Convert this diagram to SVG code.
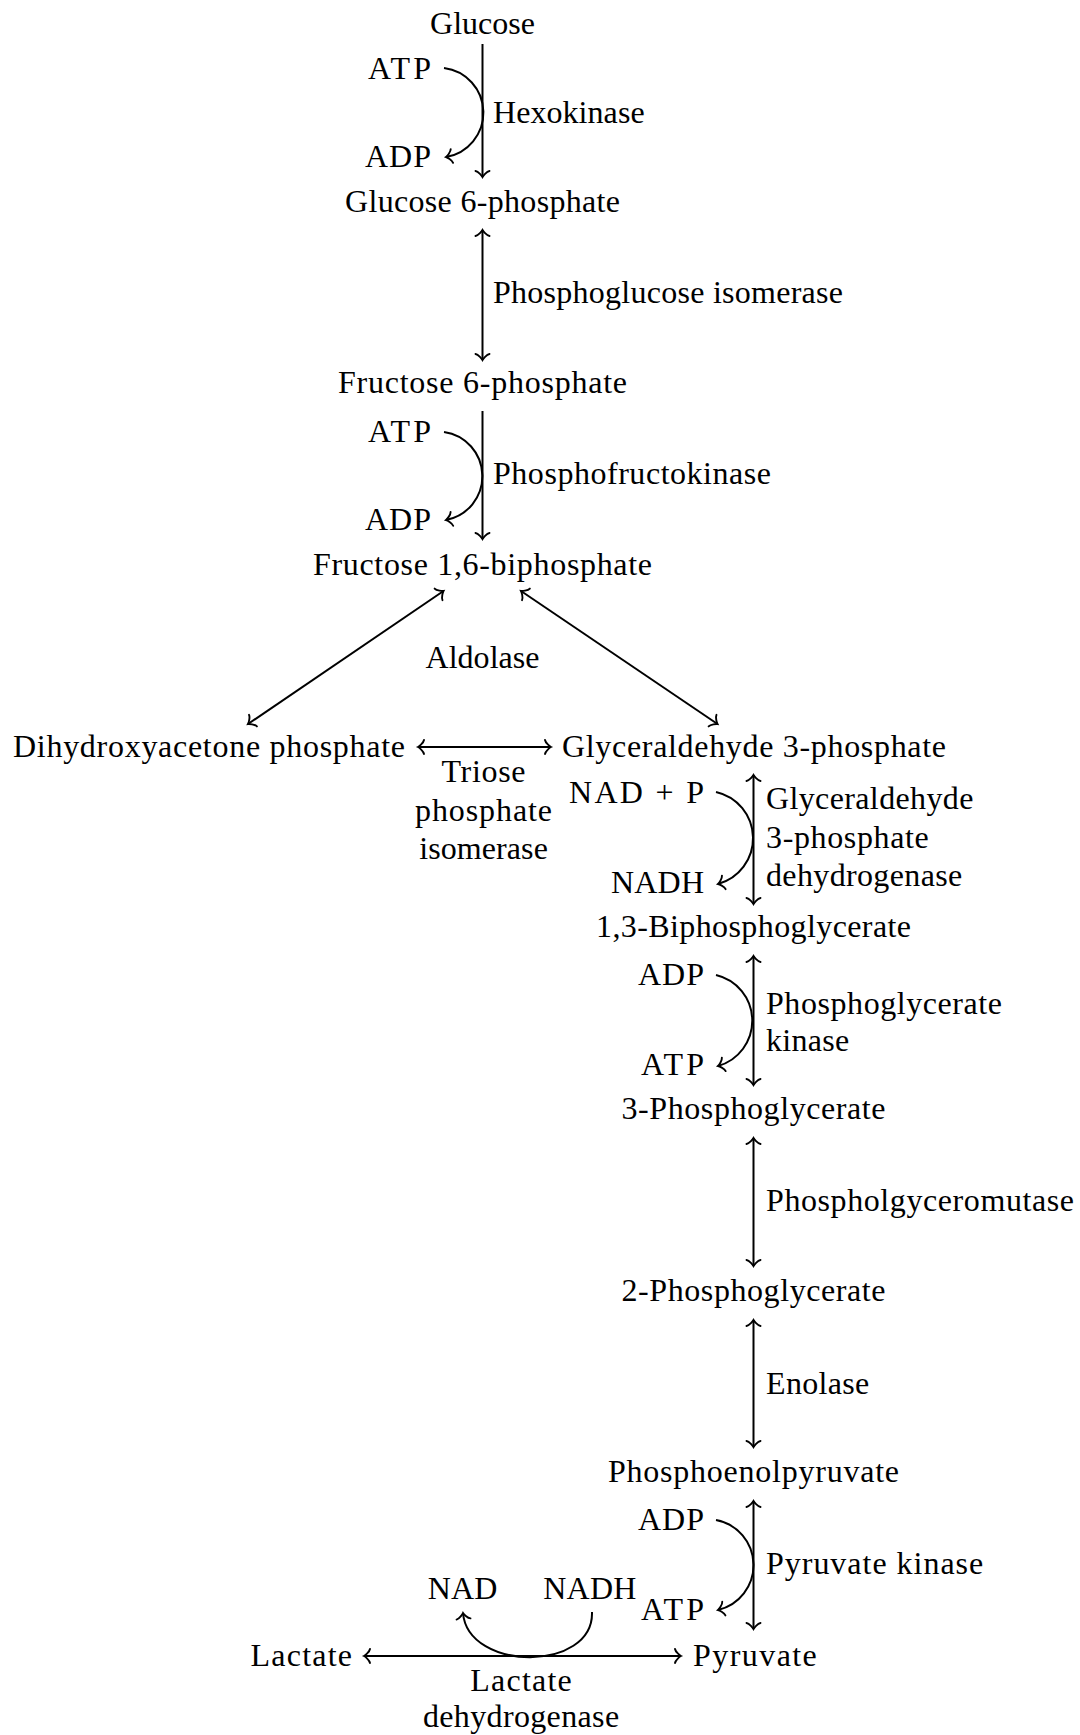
<svg xmlns="http://www.w3.org/2000/svg" width="1080" height="1735" viewBox="0 0 1080 1735">
<style>
.t{font-family:"Liberation Serif","Times New Roman",serif;font-size:32px;fill:#000}
.m{text-anchor:middle}.s{text-anchor:start}.e{text-anchor:end}
.c{fill:none;stroke:#000;stroke-width:2}
</style>
<defs>
<marker id="tip" markerUnits="userSpaceOnUse" markerWidth="20" markerHeight="20" viewBox="-10 -10 20 20" refX="0" refY="0" orient="auto-start-reverse" overflow="visible">
<path d="M-6,-7 C-5.5,-4 -1,-0.5 0,0 C-1,0.5 -5.5,4 -6,7" fill="none" stroke="#000" stroke-width="1.9" stroke-linecap="round"/>
</marker>
</defs>
<rect width="1080" height="1735" fill="#fff"/>
<g id="connectors">
<line class="c" x1="482.5" y1="44" x2="482.5" y2="177" marker-end="url(#tip)"/>
<path class="c" d="M444,68 A45,45 0 0 1 446,157" marker-end="url(#tip)"/>
<line class="c" x1="482.5" y1="230" x2="482.5" y2="360" marker-start="url(#tip)" marker-end="url(#tip)"/>
<line class="c" x1="482.5" y1="411" x2="482.5" y2="539" marker-end="url(#tip)"/>
<path class="c" d="M444,432 A44.6,44.6 0 0 1 446,520" marker-end="url(#tip)"/>
<line class="c" x1="443.5" y1="591" x2="248" y2="724" marker-start="url(#tip)" marker-end="url(#tip)"/>
<line class="c" x1="521" y1="591" x2="717.5" y2="724" marker-start="url(#tip)" marker-end="url(#tip)"/>
<line class="c" x1="418" y1="747" x2="551" y2="747" marker-start="url(#tip)" marker-end="url(#tip)"/>
<line class="c" x1="753.5" y1="775" x2="753.5" y2="904" marker-start="url(#tip)" marker-end="url(#tip)"/>
<path class="c" d="M716,792 A47.4,47.4 0 0 1 718,884" marker-end="url(#tip)"/>
<line class="c" x1="753.5" y1="956" x2="753.5" y2="1085" marker-start="url(#tip)" marker-end="url(#tip)"/>
<path class="c" d="M716,975 A47,47 0 0 1 718,1066" marker-end="url(#tip)"/>
<line class="c" x1="753.5" y1="1138" x2="753.5" y2="1266" marker-start="url(#tip)" marker-end="url(#tip)"/>
<line class="c" x1="753.5" y1="1320" x2="753.5" y2="1447" marker-start="url(#tip)" marker-end="url(#tip)"/>
<line class="c" x1="753.5" y1="1501" x2="753.5" y2="1629" marker-start="url(#tip)" marker-end="url(#tip)"/>
<path class="c" d="M716,1520 A46,46 0 0 1 718,1610" marker-end="url(#tip)"/>
<line class="c" x1="364" y1="1656" x2="681" y2="1656" marker-start="url(#tip)" marker-end="url(#tip)"/>
<path class="c" d="M592,1612 C594,1672 468,1672 463,1613" marker-end="url(#tip)"/>
</g>
<g id="glucose"><text class="t m" x="482.5" y="34" textLength="104.8">Glucose</text></g>
<g id="hexokinase-cofactors">
<text class="t e" x="431" y="79" textLength="63">ATP</text>
<text class="t e" x="431" y="167" textLength="66">ADP</text>
</g>
<g id="hexokinase"><text class="t s" x="493" y="123" textLength="151.6">Hexokinase</text></g>
<g id="glucose-6-phosphate"><text class="t m" x="482.5" y="212" textLength="275">Glucose 6-phosphate</text></g>
<g id="phosphoglucose-isomerase"><text class="t s" x="493" y="303" textLength="350">Phosphoglucose isomerase</text></g>
<g id="fructose-6-phosphate"><text class="t m" x="482.5" y="393" textLength="289">Fructose 6-phosphate</text></g>
<g id="pfk-cofactors">
<text class="t e" x="431" y="442" textLength="63">ATP</text>
<text class="t e" x="431" y="530" textLength="66">ADP</text>
</g>
<g id="phosphofructokinase"><text class="t s" x="493" y="484" textLength="278">Phosphofructokinase</text></g>
<g id="fructose-16-biphosphate"><text class="t m" x="482.5" y="575" textLength="339">Fructose 1,6-biphosphate</text></g>
<g id="aldolase"><text class="t m" x="482.5" y="668" textLength="114">Aldolase</text></g>
<g id="dhap"><text class="t s" x="13" y="757" textLength="392">Dihydroxyacetone phosphate</text></g>
<g id="gap"><text class="t s" x="562" y="757" textLength="384">Glyceraldehyde 3-phosphate</text></g>
<g id="triose-phosphate-isomerase">
<text class="t m" x="483.5" y="782" textLength="84">Triose</text>
<text class="t m" x="483.5" y="821" textLength="137">phosphate</text>
<text class="t m" x="483.5" y="859" textLength="128.7">isomerase</text>
</g>
<g id="gapdh-cofactors">
<text class="t e" x="704" y="803" textLength="135">NAD + P</text>
<text class="t e" x="704" y="893" textLength="93">NADH</text>
</g>
<g id="gapdh">
<text class="t s" x="766" y="809" textLength="207.4">Glyceraldehyde</text>
<text class="t s" x="766" y="848" textLength="162.7">3-phosphate</text>
<text class="t s" x="766" y="886" textLength="196.2">dehydrogenase</text>
</g>
<g id="bpg13"><text class="t m" x="753.5" y="937" textLength="315">1,3-Biphosphoglycerate</text></g>
<g id="pgk-cofactors">
<text class="t e" x="704" y="985" textLength="66">ADP</text>
<text class="t e" x="704" y="1075" textLength="63">ATP</text>
</g>
<g id="pgk">
<text class="t s" x="766" y="1014" textLength="236">Phosphoglycerate</text>
<text class="t s" x="766" y="1051" textLength="83.2">kinase</text>
</g>
<g id="pg3"><text class="t m" x="753.5" y="1119" textLength="264">3-Phosphoglycerate</text></g>
<g id="pgm"><text class="t s" x="766" y="1211" textLength="308">Phospholgyceromutase</text></g>
<g id="pg2"><text class="t m" x="753.5" y="1301" textLength="264">2-Phosphoglycerate</text></g>
<g id="enolase"><text class="t s" x="766" y="1394" textLength="103.3">Enolase</text></g>
<g id="pep"><text class="t m" x="753.5" y="1482" textLength="291">Phosphoenolpyruvate</text></g>
<g id="pk-cofactors">
<text class="t e" x="704" y="1530" textLength="66">ADP</text>
<text class="t e" x="704" y="1620" textLength="63">ATP</text>
</g>
<g id="pyruvate-kinase"><text class="t s" x="766" y="1574" textLength="217.2">Pyruvate kinase</text></g>
<g id="ldh-cofactors">
<text class="t m" x="462.6" y="1599" textLength="69.7">NAD</text>
<text class="t m" x="589.8" y="1599" textLength="93">NADH</text>
</g>
<g id="lactate"><text class="t e" x="352" y="1666" textLength="101.4">Lactate</text></g>
<g id="pyruvate"><text class="t s" x="693" y="1666" textLength="123.8">Pyruvate</text></g>
<g id="ldh">
<text class="t m" x="521" y="1691" textLength="101.4">Lactate</text>
<text class="t m" x="521" y="1727" textLength="196.2">dehydrogenase</text>
</g>
</svg>
